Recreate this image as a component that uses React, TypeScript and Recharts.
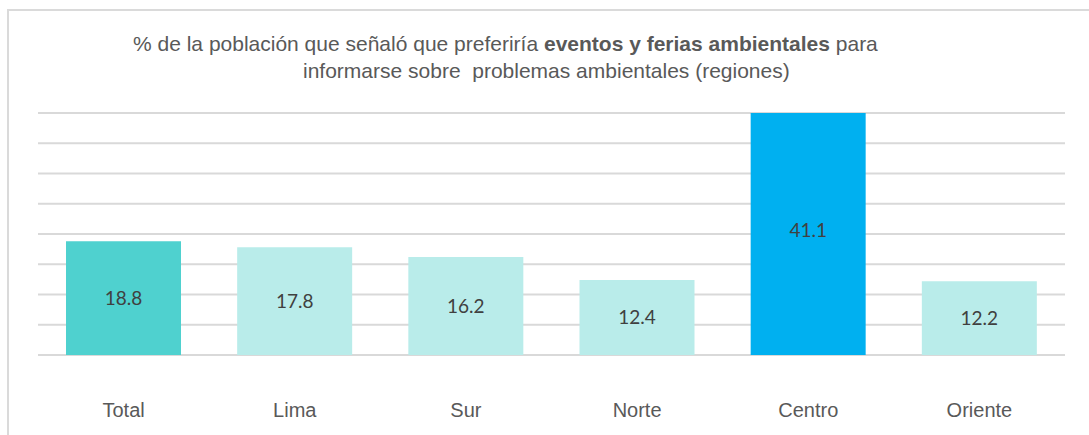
import { BarChart, Bar, XAxis, YAxis, CartesianGrid, Cell, LabelList } from "recharts";

const regiones = ["Total", "Lima", "Sur", "Norte", "Centro", "Oriente"];
const porcentajes = [18.8, 17.8, 16.2, 12.4, 41.1, 12.2];
const colores = ["#4FD1CF", "#B9ECEA", "#B9ECEA", "#B9ECEA", "#00B0F0", "#B9ECEA"];
const yTicks = [0, 5, 10, 15, 20, 25, 30, 35, 40];

const data = regiones.map((region, i) => ({ region, valor: porcentajes[i] }));

const titleStyle = {
  position: "absolute" as const,
  fontSize: 21,
  color: "#595959",
  whiteSpace: "pre" as const,
  lineHeight: "24px",
};

export default function App() {
  return (
    <div
      style={{
        position: "fixed",
        left: 0,
        top: 0,
        width: 1089,
        height: 435,
        background: "#fff",
        fontFamily: "'Liberation Sans', Arial, sans-serif",
        overflow: "hidden",
      }}
    >
      <div
        style={{
          position: "absolute",
          left: 7,
          top: 9,
          width: 1082,
          height: 426,
          borderTop: "2px solid #DADADA",
          borderLeft: "2px solid #DADADA",
        }}
      />
      <div style={{ ...titleStyle, left: 133, top: 32 }}>
        % de la población que señaló que preferiría <b>eventos y ferias ambientales</b> para
      </div>
      <div style={{ ...titleStyle, left: 303, top: 59 }}>
        informarse sobre  problemas ambientales (regiones)
      </div>
      <div style={{ position: "absolute", left: 0, top: 0 }}>
        <BarChart
          width={1089}
          height={435}
          data={data}
          margin={{ top: 113, right: 24, bottom: 50, left: 38 }}
        >
          <CartesianGrid vertical={false} stroke="#D9D9D9" strokeWidth={2} />
          <YAxis hide domain={[0, 40]} ticks={yTicks} allowDataOverflow />
          <XAxis
            dataKey="region"
            axisLine={false}
            tickLine={false}
            tickSize={0}
            tickMargin={48}
            tick={{ fontSize: 20, fill: "#595959", fontFamily: "'Liberation Sans', Arial, sans-serif" }}
          />
          <Bar dataKey="valor" barSize={115} isAnimationActive={false}>
            {data.map((d, i) => (
              <Cell key={d.region} fill={colores[i]} />
            ))}
            <LabelList
              dataKey="valor"
              position="center"
              formatter={(v: number) => v.toFixed(1)}
              style={{ fontSize: 19, fill: "#404040", fontFamily: "Lato, sans-serif" }}
            />
          </Bar>
        </BarChart>
      </div>
    </div>
  );
}
